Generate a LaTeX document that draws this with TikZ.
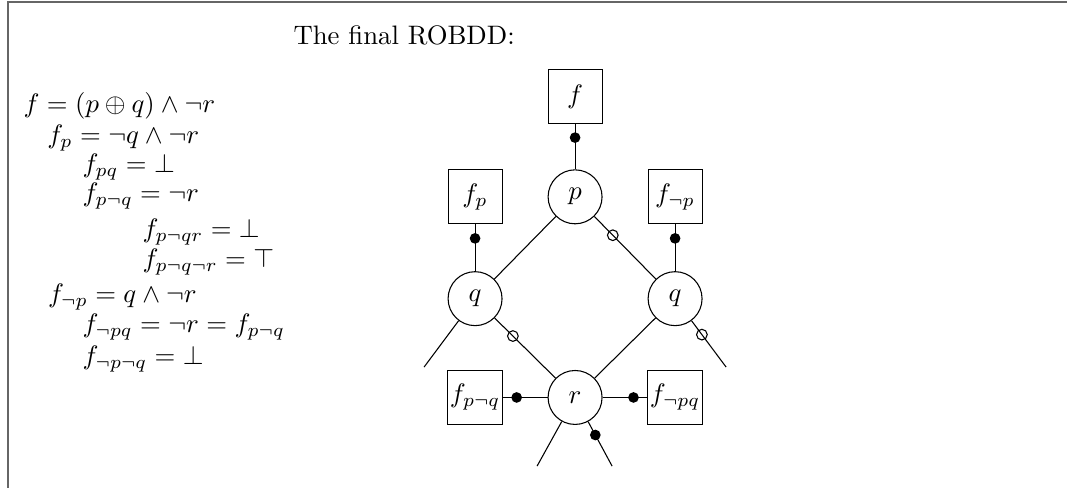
\documentclass[tikz,border=0pt]{standalone}
\usepackage{amsmath}
\usepackage{amssymb}

\begin{document}
\begin{tikzpicture}[
  var/.style={circle, draw, minimum size=0.71cm, inner sep=1pt},
  ref/.style={rectangle, draw, minimum size=0.71cm, inner sep=1pt},
  hidot/.style={circle, fill=black, inner sep=0pt, minimum size=4pt},
  negdot/.style={circle, draw, inner sep=0pt, minimum size=4pt},
  eqn/.style={anchor=base west, inner sep=0pt}
]
\useasboundingbox (0,0) rectangle (14.04,-6.42);
% Frame (only top and left edges show)
\draw[black!60, line width=0.8pt] (0.1,-6.42) -- (0.1,-0.03) -- (14.04,-0.03);
% Cofactors
\foreach \i/\x/\y/\txt in {
    1/0.303/1.481/{$f = (p \oplus q) \land \neg r$},
    2/0.615/1.887/{$f_p = \neg q \land \neg r$},
    3/1.079/2.269/{$f_{pq} = \bot$},
    4/1.079/2.654/{$f_{p\neg q} = \neg r$},
    5/1.869/3.124/{$f_{p\neg qr} = \bot$},
    6/1.869/3.519/{$f_{p\neg q\neg r} = \top$},
    7/0.625/3.980/{$f_{\neg p} = q \land \neg r$},
    8/1.079/4.378/{$f_{\neg pq} = \neg r = f_{p\neg q}$},
    9/1.079/4.790/{$f_{\neg p\neg q} = \bot$}} {
    \node[eqn] (eq\i) at (\x,-\y) {\txt};
}
\node[eqn] (title) at (3.856,-0.592) {The final ROBDD:};
% Diagram nodes
\node[ref] (f) at (7.567,-1.27) {$f$};
\node[var] (p) at (7.567,-2.59) {$p$};
\node[ref] (fp) at (6.251,-2.59) {$f_p$};
\node[ref] (fnp) at (8.883,-2.59) {$f_{\neg p}$};
\node[var] (qa) at (6.251,-3.93) {$q$};
\node[var] (qb) at (8.883,-3.93) {$q$};
\node[var] (r) at (7.567,-5.23) {$r$};
\node[ref] (fpnq) at (6.251,-5.23) {$f_{p\neg q}$};
\node[ref] (fnpq) at (8.883,-5.23) {$f_{\neg pq}$};
% Loose ends
\coordinate (qa-lo) at (5.580,-4.830);
\coordinate (qb-lo) at (9.554,-4.830);
\coordinate (r-lo) at (7.067,-6.133);
\coordinate (r-hi) at (8.054,-6.133);
% Edges
\draw (f) -- node[hidot, pos=0.3] {} (p);
\draw (fp) -- node[hidot, pos=0.3] {} (qa);
\draw (fnp) -- node[hidot, pos=0.3] {} (qb);
\draw (p) -- (qa);
\draw (p) -- node[negdot, pos=0.3] {} (qb);
\draw (qa) -- (qa-lo);
\draw (qa) -- node[negdot, pos=0.3] {} (r);
\draw (qb) -- (r);
\draw (qb) -- node[negdot, pos=0.3] {} (qb-lo);
\draw (fpnq) -- node[hidot, pos=0.3] {} (r);
\draw (fnpq) -- node[hidot, pos=0.3] {} (r);
\draw (r) -- (r-lo);
\draw (r) -- node[hidot, pos=0.3] {} (r-hi);
\end{tikzpicture}
\end{document}
